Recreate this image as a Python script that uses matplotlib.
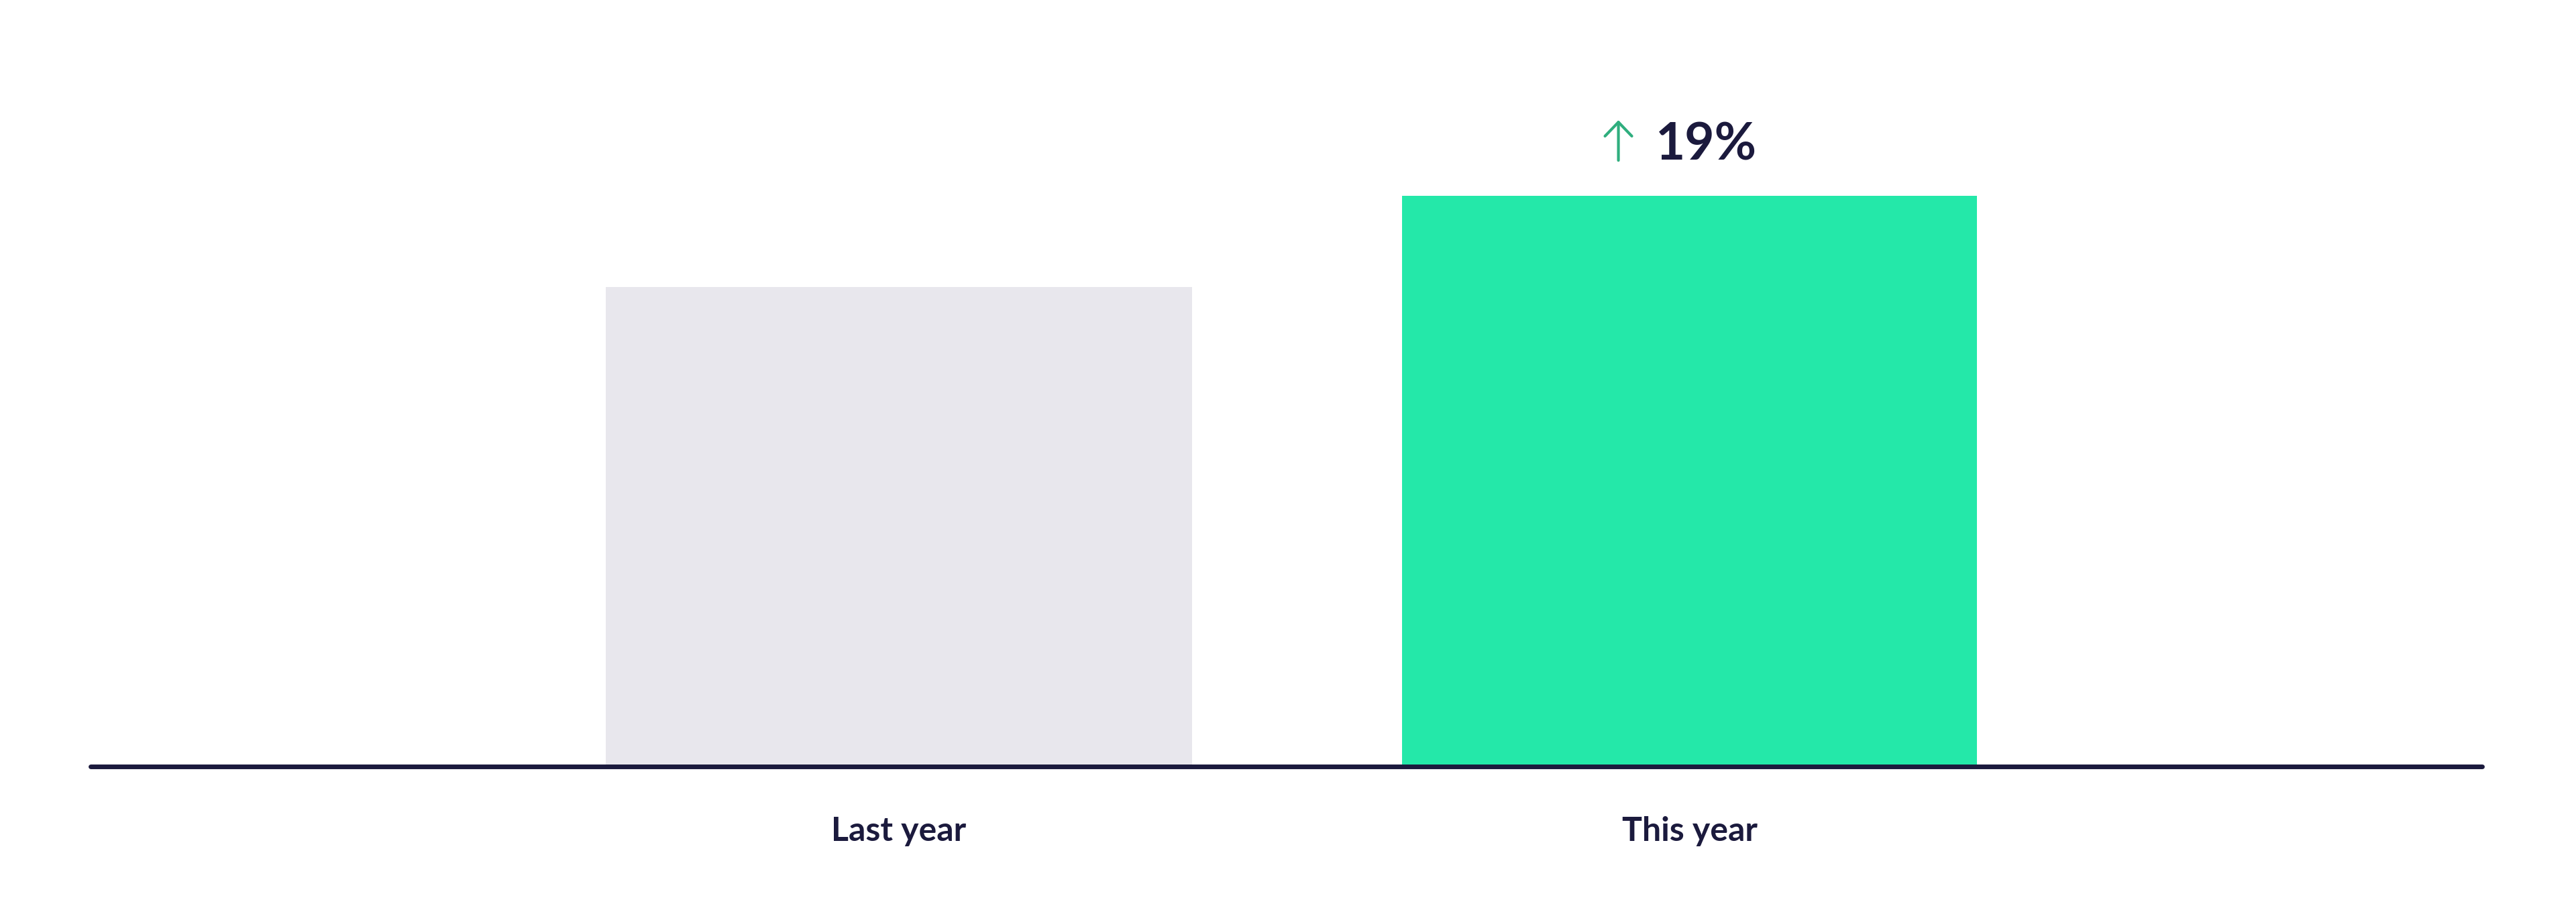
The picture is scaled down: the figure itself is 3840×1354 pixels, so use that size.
import matplotlib
matplotlib.use("Agg")
import matplotlib.pyplot as plt
from matplotlib.transforms import offset_copy

# values (this year is ~19% above last year)
periods = ["Last year", "This year"]
values = [100, 119]
change_label = "19%"

NAVY = "#1b1a3d"
BAR_COLORS = ["#e8e7ed", "#24e8a9"]
ARROW_GREEN = "#2fae7e"
BAR_WIDTHS = [0.742, 0.727]

DPI = 100
fig = plt.figure(figsize=(38.4, 13.54), dpi=DPI)
fig.patch.set_facecolor("white")

# axes spans the baseline: x 135..3700 px, baseline at y=1143 px from top
ax = fig.add_axes([135 / 3840, 211 / 1354, 3565 / 3840, 1143 / 1354])
ax.set_facecolor("none")

xs = list(range(len(periods)))
ax.bar(xs, values, width=BAR_WIDTHS, color=BAR_COLORS, zorder=2)

ax.set_xlim(-1.0225, 2.0025)
ax.set_ylim(0, 1143 / 7.15)

for side in ("top", "right", "left"):
    ax.spines[side].set_visible(False)
ax.spines["bottom"].set_color(NAVY)
ax.spines["bottom"].set_linewidth(5)
ax.spines["bottom"].set_capstyle("round")
ax.spines["bottom"].set_zorder(3)
ax.set_yticks([])
ax.set_xticks(xs)
ax.set_xticklabels(periods, fontfamily=["Lato", "DejaVu Sans"], fontweight="bold",
                   fontsize=36, color=NAVY)
ax.tick_params(axis="x", length=0, pad=53)

# change annotation above the latest bar
last = len(values) - 1
top = values[last]
ax.annotate(change_label, xy=(last, top), xytext=(-51, 54), textcoords="offset pixels",
            ha="left", va="baseline", fontfamily=["Lato", "DejaVu Sans"],
            fontweight="bold", fontsize=55, color=NAVY)

tail = offset_copy(ax.transData, fig=fig, x=-106, y=53, units="dots")
head = offset_copy(ax.transData, fig=fig, x=-106, y=113, units="dots")
ax.annotate("", xy=(last, top), xycoords=head, xytext=(last, top), textcoords=tail,
            arrowprops=dict(arrowstyle="->,head_length=0.75,head_width=0.72",
                            mutation_scale=20, color=ARROW_GREEN, lw=3.0,
                            shrinkA=0, shrinkB=0, capstyle="round", joinstyle="round"))

fig.savefig("out.png", dpi=DPI, facecolor="white")
